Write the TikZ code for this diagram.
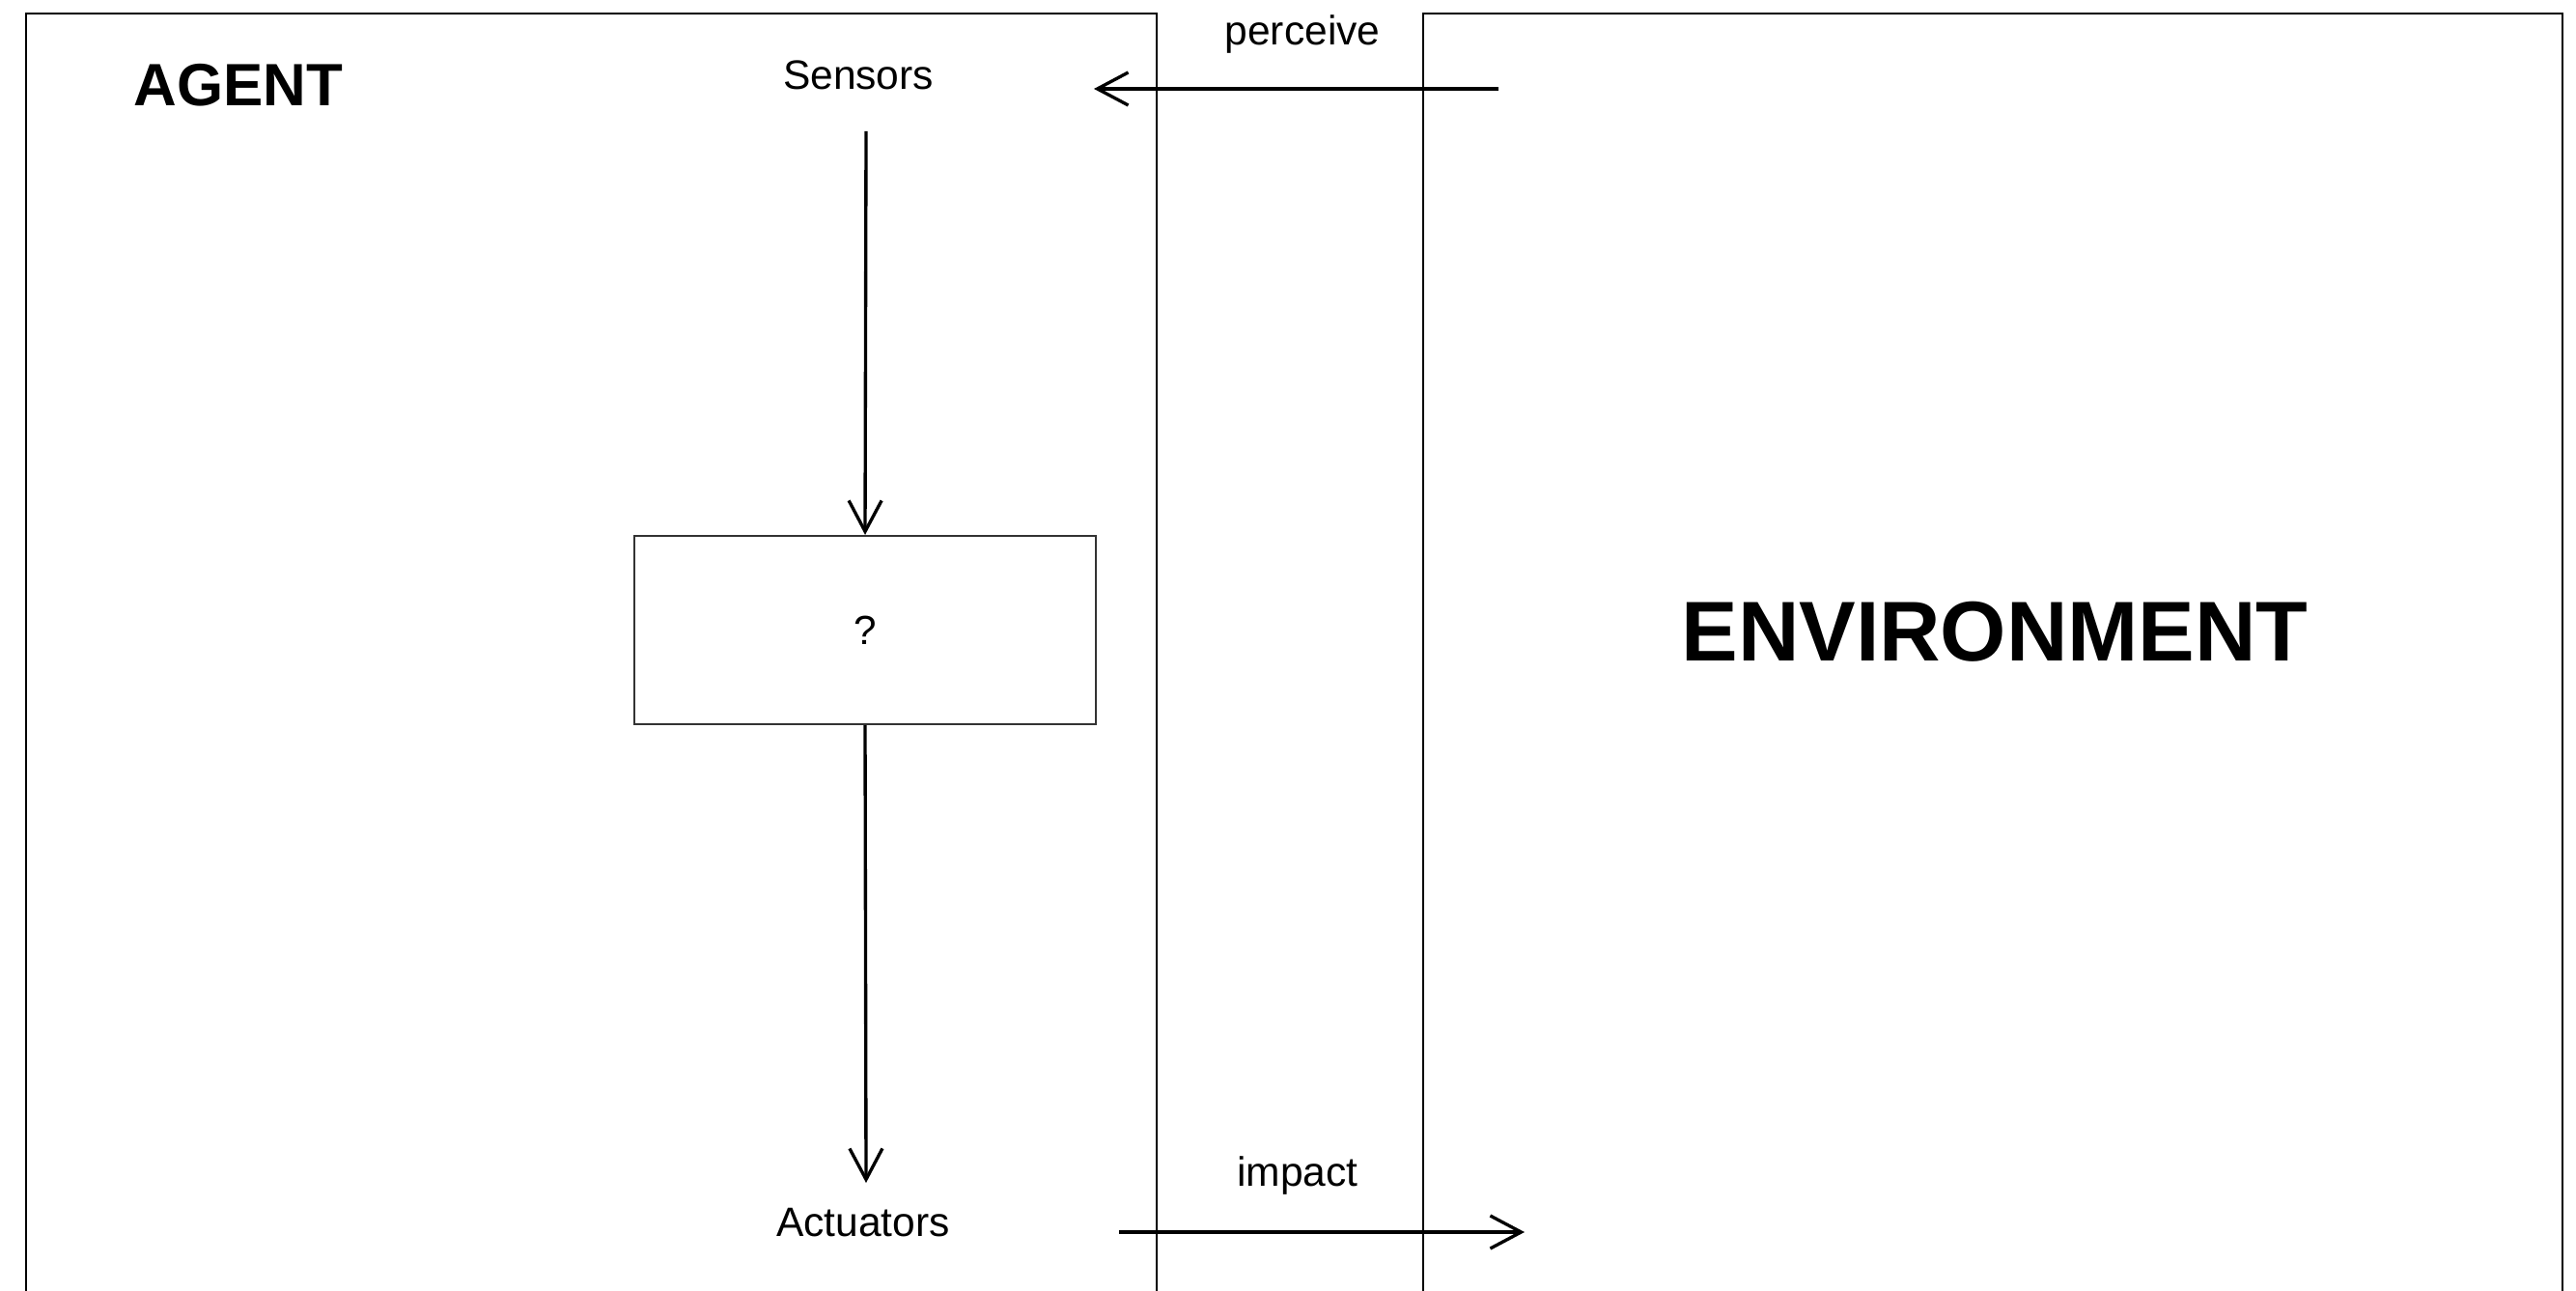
\documentclass[tikz,border=0pt]{standalone}
\usepackage{fontspec}
\setmainfont{Liberation Sans}
\usetikzlibrary{arrows.meta,positioning}
\tikzset{
  frame/.style={draw=black, line width=0.6pt},
  box/.style={draw=black!80, line width=0.6pt, minimum width=4.78cm, minimum height=1.95cm, inner sep=0pt, font=\fontsize{12}{14}\selectfont},
  label/.style={inner sep=0pt, font=\fontsize{12.1}{14}\selectfont},
  title/.style={inner sep=0pt, font=\bfseries\fontsize{17.6}{21}\selectfont},
  bigtitle/.style={inner sep=0pt, font=\bfseries\fontsize{25}{30}\selectfont},
  arrow/.style={-{Straight Barb[length=3.2mm,width=3.4mm]}, line width=0.95pt}
}
\begin{document}
\begin{tikzpicture}
\useasboundingbox (0,0) rectangle (26.68,-13.37);
% frames, open at the bottom
\draw[frame] (0.27,-13.37) -- (0.27,-0.14) -- (11.98,-0.14) -- (11.98,-13.37);
\draw[frame] (14.74,-13.37) -- (14.74,-0.14) -- (26.54,-0.14) -- (26.54,-13.37);
% agent side
\node[title] (agent) at (2.47,-0.88) {AGENT};
\node[label] (sensors) at (8.89,-0.78) {Sensors};
\node[box] (brain) at (8.96,-6.525) {?};
\node[label] (actuators) at (8.94,-12.66) {Actuators};
% environment side
\node[bigtitle] (env) at (20.66,-6.54) {ENVIRONMENT};
\node[label] (perceive) at (13.49,-0.36) {perceive};
\node[label] (impact) at (13.44,-12.17) {impact};
\coordinate (pfrom) at (15.52,-0.92);
\coordinate (pto) at (11.33,-0.92);
\coordinate (sbelow) at (8.97,-1.36);
\coordinate (aabove) at (8.97,-12.25);
\coordinate (ifrom) at (11.59,-12.76);
\coordinate (ito) at (15.79,-12.76);
\draw[arrow] (pfrom) -- (pto);
\draw[arrow] (sbelow) -- (brain.north);
\draw[arrow] (brain.south) -- (aabove);
\draw[arrow] (ifrom) -- (ito);
\end{tikzpicture}
\end{document}
